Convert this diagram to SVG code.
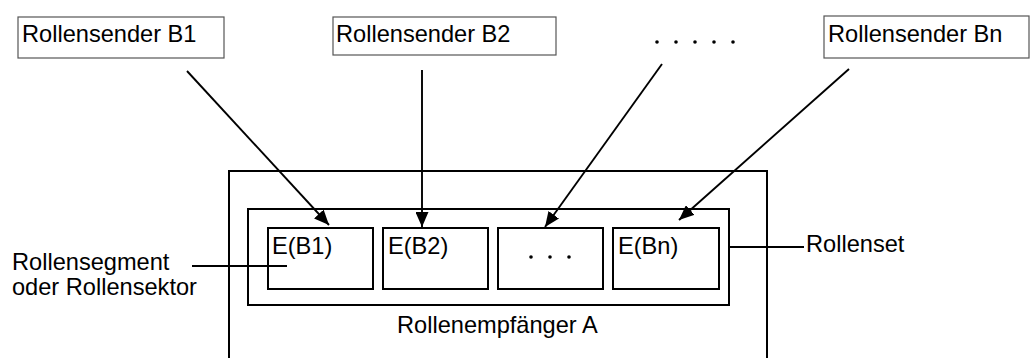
<svg xmlns="http://www.w3.org/2000/svg" width="1030" height="358" viewBox="0 0 1030 358">
<defs>
<style>
.t{font-family:"Liberation Sans",Arial,sans-serif;font-size:23.6px;fill:#000}
.src{fill:#fff;stroke:#555;stroke-width:1.2}
.box{fill:none;stroke:#000;stroke-width:2}
.ln{stroke:#000;stroke-width:1.9;fill:none}
</style>
<marker id="ah" markerUnits="userSpaceOnUse" markerWidth="15" markerHeight="13" refX="15" refY="6.5" orient="auto">
<path d="M0,0 L15,6.5 L0,13 z" fill="#000"/>
</marker>
</defs>
<rect width="1030" height="358" fill="#fff"/>
<g id="sender-b1"><rect class="src" x="18" y="17" width="206" height="41"/><text class="t" x="22" y="42">Rollensender B1</text></g>
<g id="sender-b2"><rect class="src" x="333" y="17" width="223" height="38"/><text class="t" x="336" y="42">Rollensender B2</text></g>
<g id="sender-dots"><circle cx="657" cy="42" r="1.8"/><circle cx="676" cy="42" r="1.8"/><circle cx="695" cy="42" r="1.8"/><circle cx="714" cy="42" r="1.8"/><circle cx="733" cy="42" r="1.8"/></g>
<g id="sender-bn"><rect class="src" x="824" y="16" width="205" height="42"/><text class="t" x="828" y="42">Rollensender Bn</text></g>
<g id="empfaenger"><rect class="box" x="229" y="171" width="538" height="200"/><text class="t" x="397" y="333">Rollenempfänger A</text></g>
<g id="rollenset"><rect class="box" x="248" y="209" width="481" height="96"/></g>
<g id="seg-b1"><rect class="box" x="268" y="228" width="105" height="61"/><text class="t" x="272" y="254">E(B1)</text></g>
<g id="seg-b2"><rect class="box" x="383" y="228" width="105" height="61"/><text class="t" x="388" y="254">E(B2)</text></g>
<g id="seg-dots"><rect class="box" x="498" y="228" width="105" height="61"/><circle cx="531" cy="257" r="1.8"/><circle cx="550" cy="257" r="1.8"/><circle cx="569" cy="257" r="1.8"/></g>
<g id="seg-bn"><rect class="box" x="613" y="228" width="106" height="61"/><text class="t" x="618" y="254">E(Bn)</text></g>
<g id="label-segment"><text class="t" x="12" y="270">Rollensegment</text><text class="t" x="12" y="295">oder Rollensektor</text></g>
<g id="label-set"><text class="t" x="806" y="252">Rollenset</text></g>
<g id="connectors">
<line class="ln" x1="187" y1="71" x2="329" y2="225" marker-end="url(#ah)"/>
<line class="ln" x1="422" y1="70" x2="422" y2="227" marker-end="url(#ah)"/>
<line class="ln" x1="662" y1="64" x2="545" y2="227" marker-end="url(#ah)"/>
<line class="ln" x1="849" y1="69" x2="679" y2="220" marker-end="url(#ah)"/>
<line class="ln" x1="192" y1="266" x2="287" y2="266"/>
<line class="ln" x1="729" y1="247" x2="804" y2="247"/>
</g>
</svg>
